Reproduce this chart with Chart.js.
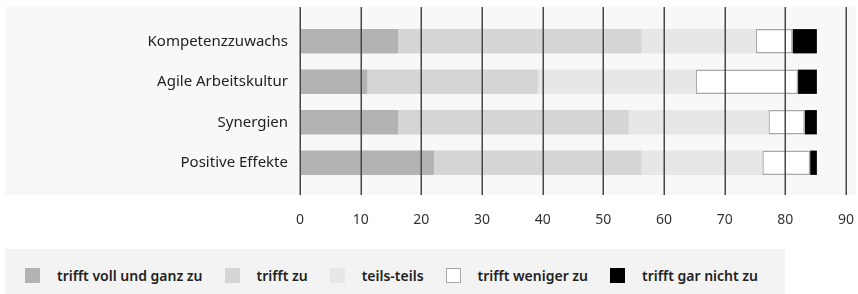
<!DOCTYPE html>
<html>
<head>
<meta charset="utf-8">
<script src="https://cdn.jsdelivr.net/npm/chart.js@4.4.0/dist/chart.umd.min.js"></script>
<style>
  body { margin: 0; background: #fff; font-family: "Noto Sans", sans-serif; }
  #wrap { position: relative; width: 858px; height: 294px; overflow: hidden; }
  #chartBox { position: absolute; left: 0; top: 0; width: 858px; height: 245px; }
  #legend { position: absolute; left: 5px; top: 249px; width: 780px; height: 45px; background: #f3f3f3;
            display: flex; align-items: center; padding: 7px 0 0 20px; box-sizing: border-box; }
  .item { display: flex; align-items: center; margin-right: 22px; font-weight: 600; font-size: 14px; color: #222; white-space: nowrap; }
  .box { width: 15px; height: 15px; margin-right: 17px; box-sizing: border-box; }
</style>
</head>
<body>
<div id="wrap">
  <div id="chartBox"><canvas id="chart"></canvas></div>
  <div id="legend"></div>
</div>
<script>
// Data
const categories = ['Kompetenzzuwachs', 'Agile Arbeitskultur', 'Synergien', 'Positive Effekte'];
const seriesNames = ['trifft voll und ganz zu', 'trifft zu', 'teils-teils', 'trifft weniger zu', 'trifft gar nicht zu'];
const vollUndGanz = [16.2, 11.1, 16.2, 22.1];
const trifftZu    = [40.1, 28.1, 38.0, 34.2];
const teilsTeils  = [18.8, 26.0, 23.0, 19.9];
const weniger     = [6.1, 16.9, 6.0, 7.9];
const garNicht    = [4.0, 3.1, 2.0, 1.1];
const xTicks = [0, 10, 20, 30, 40, 50, 60, 70, 80, 90];

const fills = ['#b3b3b3', '#d5d5d5', '#e7e7e7', '#ffffff', '#000000'];
const values = [vollUndGanz, trifftZu, teilsTeils, weniger, garNicht];

const datasets = seriesNames.map((name, i) => ({
  label: name,
  data: values[i],
  backgroundColor: fills[i],
  borderColor: i === 3 ? '#a8a8a8' : fills[i],
  borderWidth: i === 3 ? 1.5 : 0,
  borderSkipped: false,
  barPercentage: 0.6,
  categoryPercentage: 1.0
}));

// grey panel behind the bars and labels
const panelBg = {
  id: 'panelBg',
  beforeDraw(chart) {
    const ctx = chart.ctx;
    ctx.save();
    ctx.fillStyle = '#f8f8f8';
    ctx.fillRect(5, 7, 851, 188);
    ctx.restore();
  }
};

// vertical grid lines, a bit longer than the plot area
const gridLines = {
  id: 'gridLines',
  afterDatasetsDraw(chart) {
    const ctx = chart.ctx;
    const x = chart.scales.x;
    ctx.save();
    ctx.strokeStyle = '#474747';
    ctx.lineWidth = 1.5;
    xTicks.forEach(v => {
      const px = Math.round(x.getPixelForValue(v)) + 0.25;
      ctx.beginPath();
      ctx.moveTo(px, 7);
      ctx.lineTo(px, 195);
      ctx.stroke();
    });
    ctx.restore();
  }
};

const chart = new Chart(document.getElementById('chart'), {
  type: 'bar',
  data: { labels: categories, datasets: datasets },
  options: {
    indexAxis: 'y',
    responsive: true,
    maintainAspectRatio: false,
    animation: false,
    layout: { padding: { top: 20, right: 12, left: 0, bottom: 0 } },
    plugins: { legend: { display: false }, tooltip: { enabled: false } },
    scales: {
      x: {
        stacked: true,
        min: 0, max: 90,
        grid: { display: false, drawTicks: false },
        border: { display: false },
        afterFit(scale) { scale.height = 62; scale.paddingRight = 0; scale.paddingLeft = 0; },
        ticks: { stepSize: 10, padding: 29, color: '#333', font: { family: 'Noto Sans', size: 14 } }
      },
      y: {
        stacked: true,
        grid: { display: false, drawTicks: false },
        border: { display: false },
        afterFit(scale) { scale.width = 300; },
        ticks: { padding: 12, color: '#222', font: { family: 'Noto Sans', size: 15 } }
      }
    }
  },
  plugins: [panelBg, gridLines]
});

// legend built from the datasets
const legend = document.getElementById('legend');
chart.data.datasets.forEach(ds => {
  const item = document.createElement('div');
  item.className = 'item';
  const box = document.createElement('span');
  box.className = 'box';
  box.style.background = ds.backgroundColor;
  if (ds.backgroundColor === '#ffffff') box.style.border = '1.5px solid #a8a8a8';
  item.appendChild(box);
  item.appendChild(document.createTextNode(ds.label));
  legend.appendChild(item);
});
</script>
</body>
</html>
